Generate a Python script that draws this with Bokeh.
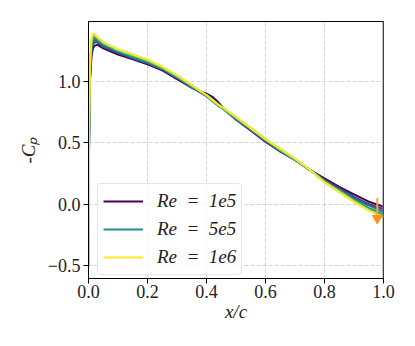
from bokeh.plotting import figure
from bokeh.models import FixedTicker, Legend, LegendItem, Span
from bokeh.palettes import Viridis256
from bokeh.embed import file_html
from bokeh.resources import INLINE

# ---- data ----
x_c = [0.0, 0.002, 0.005, 0.01, 0.015, 0.02, 0.03, 0.05, 0.1, 0.15, 0.2, 0.25, 0.3,
       0.35, 0.38, 0.4, 0.42, 0.44, 0.46, 0.5, 0.55, 0.6, 0.65, 0.7, 0.75, 0.8,
       0.85, 0.9, 0.95, 1.0]

re_values = [1e5, 2e5, 3e5, 5e5, 7e5, 8.5e5, 1e6]

cp_re_1e5 = [-0.50, 0.50, 1.00, 1.20, 1.27, 1.29, 1.30, 1.27, 1.22, 1.18, 1.14, 1.09, 1.02,
             0.95, 0.92, 0.90, 0.875, 0.83, 0.775, 0.69, 0.60, 0.51, 0.43, 0.36, 0.28, 0.21,
             0.14, 0.08, 0.02, -0.02]
cp_re_2e5 = [-0.50, 0.52, 1.03, 1.23, 1.30, 1.32, 1.32, 1.28, 1.23, 1.19, 1.15, 1.10, 1.03,
             0.95, 0.91, 0.89, 0.86, 0.82, 0.775, 0.69, 0.60, 0.51, 0.43, 0.36, 0.28, 0.20,
             0.13, 0.06, 0.00, -0.04]
cp_re_3e5 = [-0.50, 0.54, 1.06, 1.26, 1.32, 1.34, 1.33, 1.29, 1.24, 1.19, 1.15, 1.10, 1.03,
             0.96, 0.91, 0.88, 0.845, 0.81, 0.77, 0.69, 0.61, 0.52, 0.43, 0.36, 0.28, 0.19,
             0.12, 0.05, -0.01, -0.06]
cp_re_5e5 = [-0.50, 0.56, 1.09, 1.29, 1.35, 1.36, 1.34, 1.30, 1.25, 1.20, 1.16, 1.11, 1.04,
             0.96, 0.91, 0.88, 0.84, 0.80, 0.77, 0.70, 0.61, 0.52, 0.44, 0.36, 0.28, 0.19,
             0.11, 0.04, -0.03, -0.08]
cp_re_7e5 = [-0.50, 0.58, 1.11, 1.31, 1.37, 1.37, 1.35, 1.31, 1.25, 1.21, 1.17, 1.11, 1.04,
             0.96, 0.92, 0.88, 0.84, 0.81, 0.77, 0.70, 0.62, 0.53, 0.44, 0.36, 0.28, 0.18,
             0.11, 0.03, -0.04, -0.09]
cp_re_8e5 = [-0.50, 0.59, 1.13, 1.33, 1.38, 1.38, 1.36, 1.32, 1.26, 1.22, 1.17, 1.12, 1.05,
             0.97, 0.92, 0.89, 0.85, 0.81, 0.78, 0.71, 0.62, 0.53, 0.45, 0.37, 0.28, 0.18,
             0.10, 0.02, -0.05, -0.10]
cp_re_1e6 = [-0.50, 0.60, 1.15, 1.34, 1.39, 1.39, 1.36, 1.32, 1.26, 1.22, 1.18, 1.12, 1.05,
             0.97, 0.92, 0.89, 0.85, 0.81, 0.78, 0.71, 0.62, 0.53, 0.45, 0.37, 0.28, 0.18,
             0.10, 0.02, -0.05, -0.11]

cp_series = [cp_re_1e5, cp_re_2e5, cp_re_3e5, cp_re_5e5, cp_re_7e5, cp_re_8e5, cp_re_1e6]
legend_labels = {0: "Re\u2002=\u20021e5", 3: "Re\u2002=\u20025e5", 6: "Re\u2002=\u20021e6"}

# trailing-edge marker (orange arrow)
te_x = [0.979]
te_top = [0.05]
te_tip = [-0.115]

x_ticks = [0.0, 0.2, 0.4, 0.6, 0.8, 1.0]
x_tick_labels = ["0.0", "0.2", "0.4", "0.6", "0.8", "1.0"]
y_ticks = [-0.5, 0.0, 0.5, 1.0]
y_tick_labels = ["\u22120.5", "0.0", "0.5", "1.0"]

FONT = "'Liberation Serif', serif"

p = figure(width=399, height=330, x_range=(0, 1), y_range=(-0.606, 1.489),
           output_backend="svg", toolbar_location=None)
p.min_border_left = 88
p.min_border_right = 16
p.min_border_top = 21
p.min_border_bottom = 52
p.background_fill_color = "white"
p.border_fill_color = "white"
p.outline_line_color = "black"
p.outline_line_width = 1

n = len(cp_series)
items = []
for i, cp in enumerate(cp_series):
    color = Viridis256[round(i / (n - 1) * 255)]
    r = p.line(x_c, cp, line_color=color, line_width=2)
    if i in legend_labels:
        items.append(LegendItem(label=legend_labels[i], renderers=[r]))

p.add_layout(Span(location=1.0, dimension="height", line_color="#808080", line_width=2))

p.segment(x0=te_x, y0=te_top, x1=te_x, y1=te_tip, line_color="#ffa033", line_width=2)
p.scatter(te_x, te_tip, marker="inverted_triangle", size=10, fill_color="#ff9020",
          line_color="#ff9020")

legend = Legend(items=items, location=(9, 3))
legend.label_text_font = FONT
legend.label_text_font_style = "italic"
legend.label_text_font_size = "19px"
legend.label_text_color = "#222222"
legend.glyph_width = 40
legend.glyph_height = 24
legend.label_height = 24
legend.label_standoff = 14
legend.spacing = 4
legend.padding = 5
legend.margin = 0
legend.border_line_color = "#cccccc"
legend.border_line_width = 1
legend.background_fill_alpha = 0.8
if "border_radius" in Legend.properties():
    legend.border_radius = 4
p.add_layout(legend, "center")

for ax in (p.xaxis, p.yaxis):
    ax.axis_line_color = "black"
    ax.major_tick_line_color = "black"
    ax.major_tick_out = 5
    ax.major_tick_in = 0
    ax.minor_tick_out = 0
    ax.minor_tick_in = 0
    ax.major_label_text_font = FONT
    ax.major_label_text_font_size = "18px"
    ax.major_label_text_color = "#222222"
    ax.major_label_standoff = 3
p.xaxis.major_label_standoff = 1

p.xaxis.ticker = FixedTicker(ticks=x_ticks)
p.yaxis.ticker = FixedTicker(ticks=y_ticks)
p.xaxis.major_label_overrides = dict(zip(x_ticks, x_tick_labels))
p.yaxis.major_label_overrides = dict(zip(y_ticks, y_tick_labels))

p.xaxis.axis_label = "x/c"
p.xaxis.axis_label_standoff = 0
p.yaxis.axis_label = "-C\u209a"
p.yaxis.axis_label_standoff = 6
for ax in (p.xaxis, p.yaxis):
    ax.axis_label_text_font = FONT
    ax.axis_label_text_font_style = "italic"
    ax.axis_label_text_font_size = "19px"
    ax.axis_label_text_color = "#222222"

for g in (p.xgrid, p.ygrid):
    g.grid_line_color = "#c8c8c8"
    g.grid_line_dash = "4 2"
    g.grid_line_width = 0.8
p.xgrid.ticker = FixedTicker(ticks=x_ticks)
p.ygrid.ticker = FixedTicker(ticks=y_ticks)

open("out.html", "w").write(file_html(p, INLINE))
